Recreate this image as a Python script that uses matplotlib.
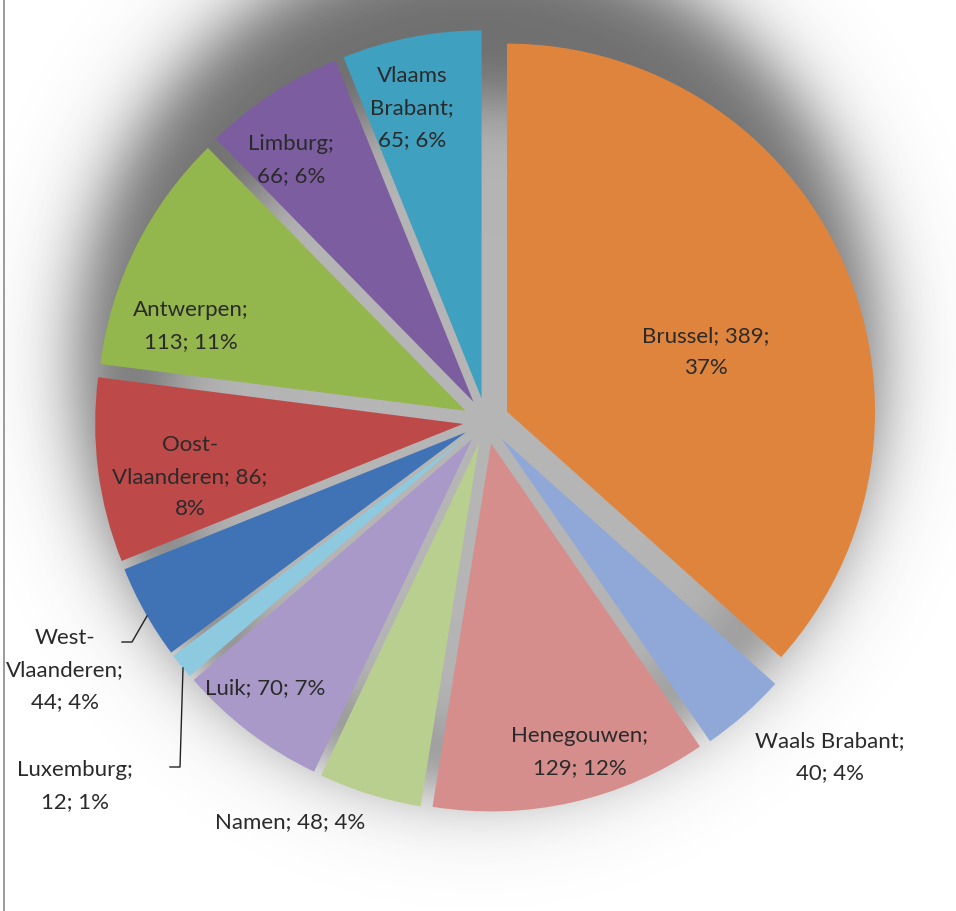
import numpy as np
import matplotlib
matplotlib.use("Agg")
import matplotlib.pyplot as plt

plt.rcParams["font.family"] = ["Lato", "DejaVu Sans"]

# provinces, clockwise from the top
names = ["Brussel", "Waals Brabant", "Henegouwen", "Namen", "Luik", "Luxemburg",
         "West-\nVlaanderen", "Oost-\nVlaanderen", "Antwerpen", "Limburg",
         "Vlaams\nBrabant"]
values = [389, 40, 129, 48, 70, 12, 44, 86, 113, 66, 65]
percents = [37, 4, 12, 4, 7, 1, 4, 8, 11, 6, 6]
colors = ["#df843d", "#8fa8d8", "#d58e8c", "#b9cf8f", "#a999c9", "#8dcae0",
          "#3f73b5", "#bd4a48", "#93b64d", "#7b5da0", "#3fa0bf"]

# how each label is broken over lines
formats = ["{n}; {v};\n{p}%", "{n};\n{v}; {p}%", "{n};\n{v}; {p}%", "{n}; {v}; {p}%",
           "{n}; {v}; {p}%", "{n};\n{v}; {p}%", "{n};\n{v}; {p}%", "{n}; {v};\n{p}%",
           "{n};\n{v}; {p}%", "{n};\n{v}; {p}%", "{n};\n{v}; {p}%"]
# label centres in pixels (x right, y down)
label_pos = [(706, 352), (830, 757), (580, 752), (290, 822), (265, 688),
             (75, 786), (65, 670), (190, 477), (191, 326), (291, 160), (412, 108)]

W, H = 956, 912
cx, cy, R = 486, 422, 368
# pie() shifts each wedge by the explode value in data units (pixels here)
explode = [23] * len(values)

fig = plt.figure(figsize=(W / 100, H / 100), dpi=100)
ax = fig.add_axes([0, 0, 1, 1])

# soft grey shadow behind the pie (shifted upwards), lighter in the middle
# where it shows through the gaps
yy, xx = np.mgrid[0:H, 0:W] + 0.5
rs = 400 * np.hypot((xx - 478) / 400, (yy - 362) / 425)
outer = 0.5 * (1 - np.tanh((rs - 400) / 44))
rp = np.hypot(xx - cx, yy - cy)
inner = 0.5 * (1 - np.tanh((rp - 320) / 40))
alpha = np.clip(0.76 * outer - 0.38 * inner, 0, 1)
shade = np.zeros((H, W, 4))
shade[..., :3] = 60 / 255
shade[..., 3] = alpha
ax.imshow(shade, extent=(0, W, H, 0), origin="upper", zorder=0, interpolation="bilinear")

# y axis runs downwards, so counterclockwise here is clockwise on screen
wedges, _ = ax.pie(values, colors=colors, explode=explode, startangle=-90,
                   counterclock=True, center=(cx, cy), radius=R,
                   wedgeprops=dict(linewidth=0, zorder=2))

for name, v, p, fmt, (x, y) in zip(names, values, percents, formats, label_pos):
    ax.text(x, y, fmt.format(n=name, v=v, p=p), ha="center", va="center",
            fontsize=16, color="#2a2a2a", linespacing=1.75, zorder=5)

# leader lines for the two thin slices on the left
ax.plot([122, 132, 147], [643, 643, 617], color="#222222", lw=1, zorder=4)
ax.plot([170, 180, 183], [768, 768, 669], color="#222222", lw=1, zorder=4)

# frame line on the left edge
ax.plot([4, 4], [0, H], color="#8a8a8a", lw=1.2, zorder=4)

ax.set_xlim(0, W)
ax.set_ylim(H, 0)
ax.set_aspect("auto")
ax.axis("off")

fig.savefig("out.png", dpi=100, facecolor="white")
